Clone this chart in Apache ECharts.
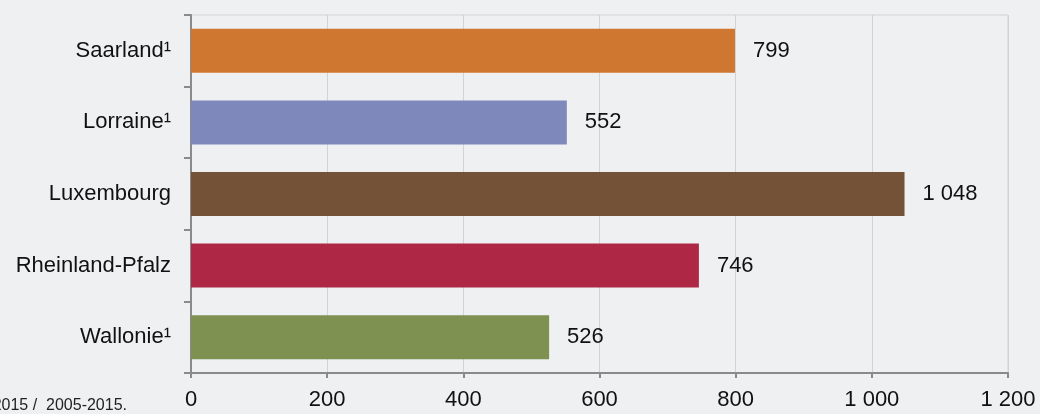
<!DOCTYPE html>
<html>
<head>
<meta charset="utf-8">
<script src="https://cdn.jsdelivr.net/npm/echarts@6/dist/echarts.min.js"></script>
<style>
  html, body { margin: 0; padding: 0; background: #eff0f2; }
  #chart { width: 1040px; height: 414px; }
</style>
</head>
<body>
<div id="chart"></div>
<script>
// categories, top to bottom
const regions = ['Saarland¹', 'Lorraine¹', 'Luxembourg', 'Rheinland-Pfalz', 'Wallonie¹'];
const values = [799, 552, 1048, 746, 526];
const barColors = ['#cf7731', '#7f88ba', '#735238', '#ae2744', '#7e9150'];
const xTicks = [0, 200, 400, 600, 800, 1000, 1200];
const footnote = '2015 /  2005-2015.';

// thousands with a space, e.g. 1 048
const fmt = (v) => String(v).replace(/\B(?=(\d{3})+(?!\d))/g, ' ');

const chart = echarts.init(document.getElementById('chart'));

const option = {
  animation: false,
  backgroundColor: '#eff0f2',
  textStyle: { fontFamily: 'Liberation Sans, Arial, sans-serif' },
  grid: {
    left: 191, right: 32, top: 15, bottom: 41,
    show: true, borderColor: '#d2d3d5', borderWidth: 1, backgroundColor: 'transparent'
  },
  xAxis: {
    type: 'value',
    min: xTicks[0],
    max: xTicks[xTicks.length - 1],
    interval: 200,
    axisLine: { show: true, lineStyle: { color: '#8a8a8a', width: 2 } },
    axisTick: { show: true, length: 5, lineStyle: { color: '#8a8a8a', width: 2 } },
    splitLine: { show: true, lineStyle: { color: '#d2d3d5', width: 1 } },
    axisLabel: { color: '#111', fontSize: 22, margin: 16, formatter: (v) => fmt(v) }
  },
  yAxis: {
    type: 'category',
    inverse: true,
    data: regions,
    axisLine: { show: true, lineStyle: { color: '#8a8a8a', width: 2 } },
    axisTick: { show: true, length: 7, lineStyle: { color: '#8a8a8a', width: 2 } },
    splitLine: { show: false },
    axisLabel: { color: '#111', fontSize: 22, margin: 20 }
  },
  series: [{
    type: 'bar',
    barWidth: 44,
    data: values.map((v, i) => ({ value: v, itemStyle: { color: barColors[i] } })),
    label: {
      show: true,
      position: 'right',
      distance: 18,
      color: '#111',
      fontSize: 22,
      formatter: (p) => fmt(p.value)
    }
  }],
  graphic: [{
    type: 'text',
    right: 1040 - 127,
    top: 398,
    style: { text: footnote, fill: '#222', font: '16px Liberation Sans, Arial, sans-serif', textAlign: 'right' }
  }]
};

chart.setOption(option);
</script>
</body>
</html>
